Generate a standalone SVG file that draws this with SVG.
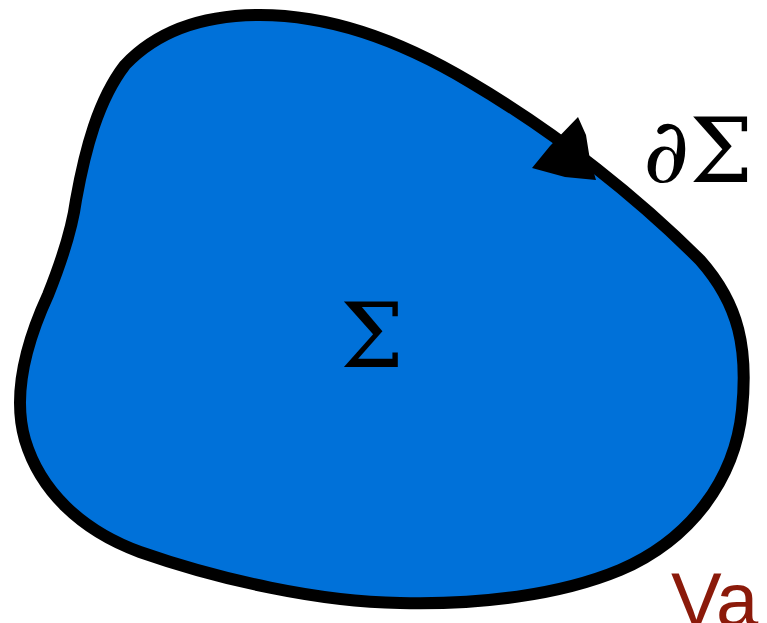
<svg xmlns="http://www.w3.org/2000/svg" width="767" height="623" viewBox="0 0 767 623">
<style>
.math{font-family:"DejaVu Serif","Liberation Serif",serif;fill:#000}
.va{font-family:"Liberation Sans",Arial,sans-serif;fill:#8B1A0A}
</style>
<rect width="767" height="623" fill="#fff"/>
<g id="region">
<path d="M260,15 C330,15 400,40 470,82 C560,135 640,200 700,260 C740,305 748,350 742,410 C735,480 690,540 620,570 C560,595 480,605 400,603 C320,602 220,580 140,552 C80,530 40,490 25,440 C12,395 25,345 48,295 C62,260 72,230 76,200 C85,150 98,100 125,65 C160,28 210,15 260,15 Z" fill="#0071D9" stroke="#000" stroke-width="12" stroke-linejoin="round"/>
</g>
<g id="arrow">
<polygon points="532,168 550,146 578,117 586,135 590,160 596,180 565,177" fill="#000"/>
</g>
<g id="labels">
<text class="math" x="372" y="367" font-size="90" text-anchor="middle">Σ</text>
<text class="math" x="643" y="182" font-size="90">∂Σ</text>
<text class="va" x="671" y="626" font-size="76">Va</text>
</g>
</svg>
